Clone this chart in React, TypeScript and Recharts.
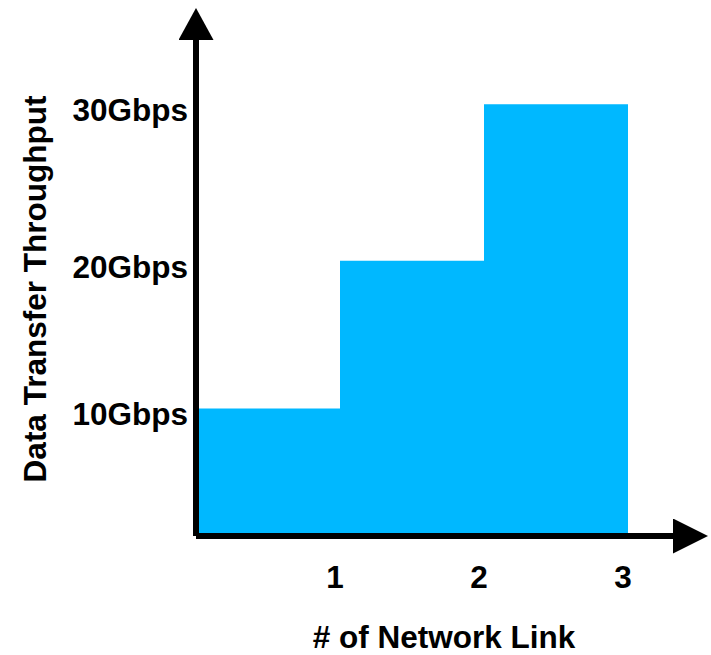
import React from 'react';
import { AreaChart, Area, XAxis, YAxis, Label } from 'recharts';

// Throughput as a step function of the number of network links
const linkCounts = [0, 1, 2, 3];
const throughputGbps = [10, 20, 30, 30];
const linkTicks = [1, 2, 3];
const throughputTicks = [10, 20, 30];
const throughputTickLabels = ['10Gbps', '20Gbps', '30Gbps'];

const data = linkCounts.map((links, i) => ({ links, throughput: throughputGbps[i] }));

const FONT = '"Liberation Sans", Arial, Helvetica, sans-serif';
const FONT_SIZE = 31.5;
const FILL = '#00b8ff';

// Power scale (d3-like interface) used for the throughput axis
function powerScale(exponent: number) {
  let dom: number[] = [0, 1];
  let rng: number[] = [0, 1];
  const fn: any = (v: number) => {
    const a = Math.pow(dom[0], exponent);
    const b = Math.pow(dom[1], exponent);
    const t = (Math.pow(Number(v), exponent) - a) / (b - a);
    return rng[0] + t * (rng[1] - rng[0]);
  };
  fn.domain = (d?: any[]) => {
    if (d === undefined) return dom.slice();
    dom = d.map(Number);
    return fn;
  };
  fn.range = (r?: any[]) => {
    if (r === undefined) return rng.slice();
    rng = r.map(Number);
    return fn;
  };
  fn.copy = () => powerScale(exponent).domain(dom).range(rng);
  fn.ticks = () => throughputTicks.slice();
  fn.invert = (px: number) => {
    const a = Math.pow(dom[0], exponent);
    const b = Math.pow(dom[1], exponent);
    const t = (px - rng[0]) / (rng[1] - rng[0]);
    return Math.pow(a + t * (b - a), 1 / exponent);
  };
  fn.nice = () => fn;
  fn.clamp = () => fn;
  return fn;
}

const yScale = powerScale(1.11);

const textStyle = {
  fontFamily: FONT,
  fontWeight: 700,
  fontSize: FONT_SIZE,
  fill: '#000',
};

function ThroughputTick(props: any) {
  const { x, y, payload } = props;
  const idx = throughputTicks.indexOf(payload.value);
  const label = idx >= 0 ? throughputTickLabels[idx] : String(payload.value);
  return (
    <text x={x} y={y + 17} textAnchor="end" style={textStyle}>
      {label}
    </text>
  );
}

function LinkTick(props: any) {
  const { x, payload } = props;
  return (
    <text x={x - 5} y={588} textAnchor="middle" style={textStyle}>
      {payload.value}
    </text>
  );
}

function XTitle() {
  return (
    <text x={444} y={648} textAnchor="middle" style={textStyle}>
      # of Network Link
    </text>
  );
}

function YTitle() {
  return (
    <text
      x={0}
      y={0}
      transform="translate(46,289) rotate(-90)"
      textAnchor="middle"
      style={textStyle}
    >
      Data Transfer Throughput
    </text>
  );
}

export default function App() {
  return (
    <div style={{ position: 'absolute', left: 0, top: 0, width: 711, height: 655, background: '#fff' }}>
      <svg width={0} height={0} style={{ position: 'absolute' }}>
        <defs>
          <marker
            id="arrow-x"
            viewBox="0 0 35 35"
            refX={0}
            refY={17.5}
            markerWidth={35}
            markerHeight={35}
            markerUnits="userSpaceOnUse"
            orient="auto-start-reverse"
          >
            <path d="M0,0 L35,17.5 L0,35 Z" fill="#000" />
          </marker>
          <marker
            id="arrow-y"
            viewBox="0 0 32 35"
            refX={0}
            refY={17.5}
            markerWidth={32}
            markerHeight={35}
            markerUnits="userSpaceOnUse"
            orient="auto-start-reverse"
          >
            <path d="M0,0 L32,17.5 L0,35 Z" fill="#000" />
          </marker>
        </defs>
      </svg>
      <AreaChart
        width={711}
        height={655}
        data={data}
        margin={{ top: 40, right: 38, bottom: 0, left: 0 }}
      >
        <XAxis
          dataKey="links"
          type="number"
          domain={[0, 3]}
          ticks={linkTicks}
          interval={0}
          height={119}
          padding={{ left: 0, right: 45 }}
          tickLine={false}
          tick={<LinkTick />}
          axisLine={{ stroke: '#000', strokeWidth: 6, markerEnd: 'url(#arrow-x)' }}
        >
          <Label content={<XTitle />} />
        </XAxis>
        <YAxis
          type="number"
          domain={[0, 34]}
          scale={yScale}
          ticks={throughputTicks}
          interval={0}
          width={196}
          tickLine={false}
          tickSize={0}
          tickMargin={8}
          tick={<ThroughputTick />}
          axisLine={{ stroke: '#000', strokeWidth: 6, markerStart: 'url(#arrow-y)' }}
        >
          <Label content={<YTitle />} />
        </YAxis>
        <Area
          type="stepAfter"
          dataKey="throughput"
          stroke="none"
          fill={FILL}
          fillOpacity={1}
          dot={false}
          activeDot={false}
          isAnimationActive={false}
        />
      </AreaChart>
    </div>
  );
}
